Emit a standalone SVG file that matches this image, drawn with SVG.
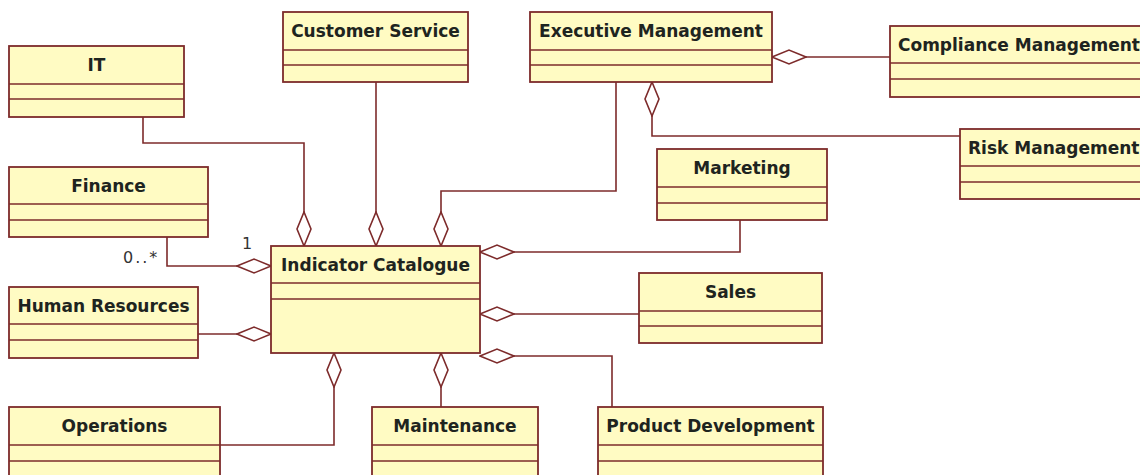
<svg xmlns="http://www.w3.org/2000/svg" width="1140" height="475" viewBox="0 0 1140 475">
<defs>
<style>
.box rect{fill:#FFFBC3;stroke:#7d2b2b;stroke-width:1.8}
.box line{stroke:#7d2b2b;stroke-width:1.6}
.box text{font-family:"DejaVu Sans",Verdana,sans-serif;font-weight:bold;font-size:17px;fill:#1e2420;text-anchor:middle}
.box text.l{text-anchor:start}
.conn path{fill:none;stroke:#7d2b2b;stroke-width:1.6}
.agg{marker-start:url(#dia)}
.lbl{font-family:"DejaVu Sans",Verdana,sans-serif;font-size:16px;fill:#333}
</style>
<marker id="dia" markerUnits="userSpaceOnUse" viewBox="-1 -1 36 17" markerWidth="36" markerHeight="17" refX="0" refY="7.5" orient="auto">
<path d="M0,7.5 L17,0.5 L34,7.5 L17,14.5 Z" fill="#fff" stroke="#7d2b2b" stroke-width="1.6"/>
</marker>
</defs>
<rect width="1140" height="475" fill="#fff"/>
<g class="conn">
<path class="agg" d="M304,246 V143 H143 V117"/>
<path class="agg" d="M376,246 V82"/>
<path class="agg" d="M441,246 V191 H616 V82"/>
<path class="agg" d="M480,252 H740 V220"/>
<path class="agg" d="M480,314 H639"/>
<path class="agg" d="M480,356 H612 V407"/>
<path class="agg" d="M441,353 V407"/>
<path class="agg" d="M334,353 V445 H220"/>
<path class="agg" d="M271,334 H198"/>
<path class="agg" d="M271,266 H167 V237"/>
<path class="agg" d="M772,57 H890"/>
<path class="agg" d="M652,82 V136 H960"/>
</g>
<text class="lbl" x="123" y="263" letter-spacing="2">0..*</text>
<text class="lbl" x="247" y="249" text-anchor="middle">1</text>
<g id="it" class="box"><rect x="9" y="46" width="175" height="71"/><line x1="9" y1="84" x2="184" y2="84"/><line x1="9" y1="99" x2="184" y2="99"/><text x="96.5" y="71">IT</text></g>
<g id="customer-service" class="box"><rect x="283" y="12" width="185" height="70"/><line x1="283" y1="50" x2="468" y2="50"/><line x1="283" y1="65" x2="468" y2="65"/><text x="375.5" y="37">Customer Service</text></g>
<g id="executive-management" class="box"><rect x="530" y="12" width="242" height="70"/><line x1="530" y1="50" x2="772" y2="50"/><line x1="530" y1="65" x2="772" y2="65"/><text x="651" y="37">Executive Management</text></g>
<g id="compliance-management" class="box"><rect x="890" y="26" width="262" height="71"/><line x1="890" y1="63" x2="1152" y2="63"/><line x1="890" y1="79" x2="1152" y2="79"/><text class="l" x="898" y="51">Compliance Management</text></g>
<g id="risk-management" class="box"><rect x="960" y="129" width="192" height="70"/><line x1="960" y1="166" x2="1152" y2="166"/><line x1="960" y1="182" x2="1152" y2="182"/><text class="l" x="968" y="154">Risk Management</text></g>
<g id="finance" class="box"><rect x="9" y="167" width="199" height="70"/><line x1="9" y1="204" x2="208" y2="204"/><line x1="9" y1="220" x2="208" y2="220"/><text x="108.5" y="192">Finance</text></g>
<g id="marketing" class="box"><rect x="657" y="149" width="170" height="71"/><line x1="657" y1="187" x2="827" y2="187"/><line x1="657" y1="203" x2="827" y2="203"/><text x="742" y="174">Marketing</text></g>
<g id="indicator-catalogue" class="box"><rect x="271" y="246" width="209" height="107"/><line x1="271" y1="283" x2="480" y2="283"/><line x1="271" y1="299" x2="480" y2="299"/><text x="375.5" y="271">Indicator Catalogue</text></g>
<g id="human-resources" class="box"><rect x="9" y="287" width="189" height="71"/><line x1="9" y1="324" x2="198" y2="324"/><line x1="9" y1="340" x2="198" y2="340"/><text x="103.5" y="312">Human Resources</text></g>
<g id="sales" class="box"><rect x="639" y="273" width="183" height="70"/><line x1="639" y1="311" x2="822" y2="311"/><line x1="639" y1="326" x2="822" y2="326"/><text x="730.5" y="298">Sales</text></g>
<g id="operations" class="box"><rect x="9" y="407" width="211" height="80"/><line x1="9" y1="445" x2="220" y2="445"/><line x1="9" y1="461" x2="220" y2="461"/><text x="114.5" y="432">Operations</text></g>
<g id="maintenance" class="box"><rect x="372" y="407" width="166" height="80"/><line x1="372" y1="445" x2="538" y2="445"/><line x1="372" y1="461" x2="538" y2="461"/><text x="455" y="432">Maintenance</text></g>
<g id="product-development" class="box"><rect x="598" y="407" width="225" height="80"/><line x1="598" y1="445" x2="823" y2="445"/><line x1="598" y1="461" x2="823" y2="461"/><text x="710.5" y="432">Product Development</text></g>
</svg>
